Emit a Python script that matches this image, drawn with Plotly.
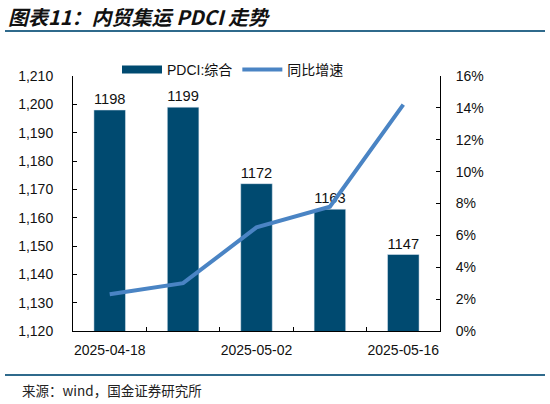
import plotly.graph_objects as go

# 数据
dates = ["2025-04-18", "2025-04-25", "2025-05-02", "2025-05-09", "2025-05-16"]
pdci = [1198, 1199, 1172, 1163, 1147]
yoy = [0.023, 0.030, 0.065, 0.078, 0.142]

idx = list(range(len(dates)))
label_dates = [dates[0], dates[2], dates[4]]
bar_color = "#004A70"

W, H = 550, 404
# 绘图区像素位置
px_l, px_r, px_t, px_b = 73, 440, 76, 331

fig = go.Figure()
fig.add_trace(go.Bar(
	x=idx, y=pdci, name="PDCI:综合", showlegend=False,
	marker_color=bar_color, width=0.43,
	text=[str(v) for v in pdci], textposition="outside",
	textfont=dict(size=15, color="#111111"),
	cliponaxis=False))
# 图例用的宽色块
fig.add_trace(go.Scatter(
	x=[None], y=[None], name="PDCI:综合", mode="lines",
	line=dict(color=bar_color, width=8)))
fig.add_trace(go.Scatter(
	x=idx, y=yoy, name="同比增速", yaxis="y2",
	mode="lines", line=dict(color="#4A84C4", width=4)))

fig.update_layout(
	width=W, height=H,
	margin=dict(l=0, r=0, t=0, b=0, autoexpand=False),
	paper_bgcolor="white", plot_bgcolor="white",
	font=dict(family="Liberation Sans, Arial, Noto Sans CJK SC", size=14, color="#111111"),
	showlegend=True,
	legend=dict(orientation="h", x=117/W, y=1-70/H, xanchor="left", yanchor="middle",
		bgcolor="rgba(0,0,0,0)", font=dict(size=14), itemwidth=40,
		tracegroupgap=0),
	xaxis=dict(domain=[px_l/W, px_r/W], range=[-0.5, 4.5], tickmode="array",
		tickvals=[idx[0], idx[2], idx[4]], ticktext=label_dates,
		ticks="", showline=True, linecolor="black", linewidth=1,
		showgrid=False, zeroline=False, ticklabelstandoff=6,
		minor=dict(tickmode="array", tickvals=[0.5, 1.5, 2.5, 3.5],
			ticks="inside", ticklen=4, tickcolor="black", showgrid=False)),
	yaxis=dict(domain=[1-px_b/H, 1-px_t/H], range=[1120, 1210], dtick=10, tickformat=",",
		ticks="inside", ticklen=4, tickcolor="black",
		showline=True, linecolor="black", linewidth=1,
		showgrid=False, zeroline=False, ticklabelstandoff=16),
	yaxis2=dict(range=[0, 0.16], dtick=0.02, tickformat=".0%",
		overlaying="y", side="right",
		ticks="inside", ticklen=4, tickcolor="black",
		showline=True, linecolor="black", linewidth=1,
		showgrid=False, zeroline=False, ticklabelstandoff=12),
	bargap=0.5,
)

# 标题、分隔线、来源
fig.add_annotation(text="<b><i>图表11：内贸集运 PDCI 走势</i></b>",
	xref="paper", yref="paper", x=6/W, y=1-16/H,
	xanchor="left", yanchor="middle", showarrow=False,
	font=dict(family="Noto Sans CJK SC", size=20, color="#111111"))
for py in [31, 375]:
	fig.add_shape(type="line", xref="paper", yref="paper", layer="above",
		x0=5/W, x1=545/W, y0=1-py/H, y1=1-py/H,
		line=dict(color="#2F6A8C", width=2))
fig.add_annotation(text="来源：wind，国金证券研究所",
	xref="paper", yref="paper", x=20/W, y=1-390/H,
	xanchor="left", yanchor="middle", showarrow=False,
	font=dict(family="Noto Sans CJK SC", size=13.5, color="#222222"))

# 去掉页面默认边距
fig.write_html("out.html", config={"displayModeBar": False},
	post_script="document.body.style.margin='0';")
